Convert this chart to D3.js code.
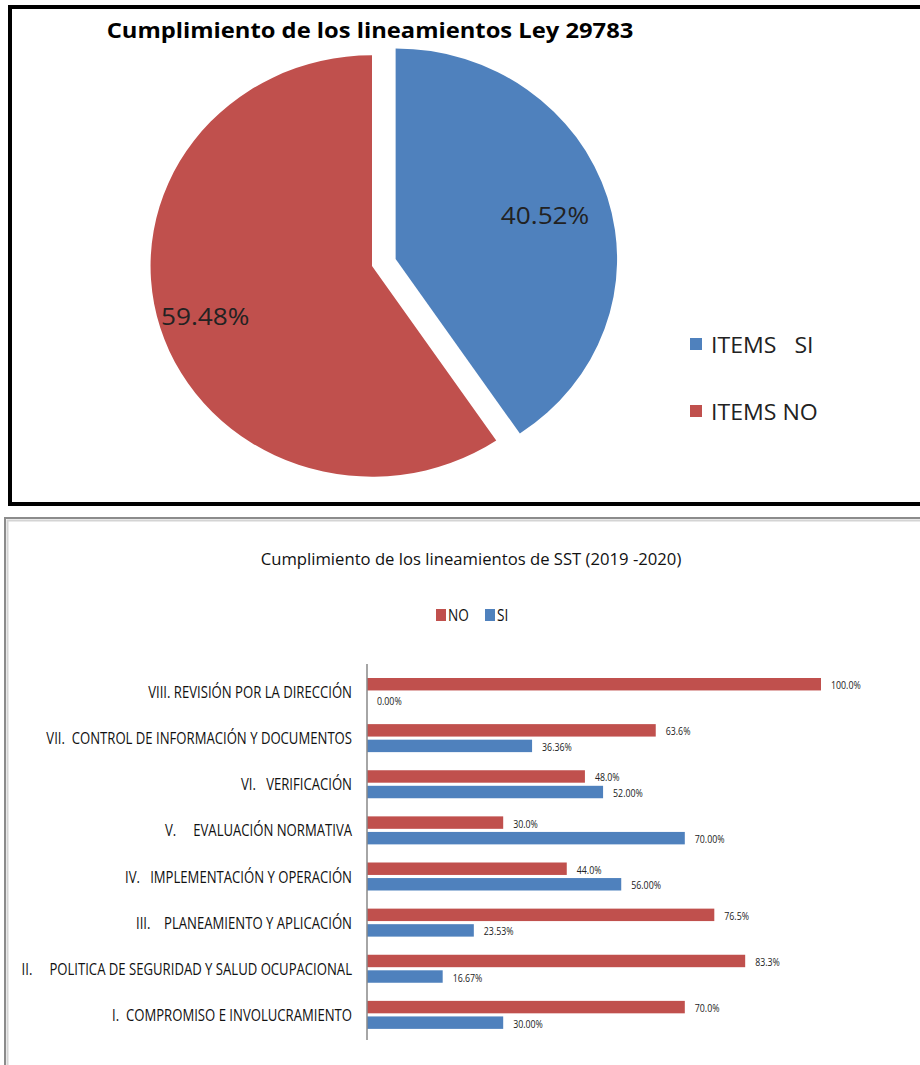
<!DOCTYPE html>
<html>
<head>
<meta charset="utf-8">
<script src="https://cdn.jsdelivr.net/npm/d3@7"></script>
<style>
  body { margin: 0; background: #fff; }
  svg text { font-family: "Open Sans", "Liberation Sans", sans-serif; }
</style>
</head>
<body>
<svg width="920" height="1065"></svg>
<script>
// pie data
var pieLabels = ["ITEMS   SI", "ITEMS NO"];
var pieValues = [40.52, 59.48];

// bar data
var categories = [
  "VIII. REVISIÓN POR LA DIRECCIÓN",
  "VII.  CONTROL DE INFORMACIÓN Y DOCUMENTOS",
  "VI.   VERIFICACIÓN",
  "V.     EVALUACIÓN NORMATIVA",
  "IV.   IMPLEMENTACIÓN Y OPERACIÓN",
  "III.    PLANEAMIENTO Y APLICACIÓN",
  "II.     POLITICA DE SEGURIDAD Y SALUD OCUPACIONAL",
  "I.  COMPROMISO E INVOLUCRAMIENTO"
];
var noValues = [100.0, 63.6, 48.0, 30.0, 44.0, 76.5, 83.3, 70.0];
var siValues = [0.00, 36.36, 52.00, 70.00, 56.00, 23.53, 16.67, 30.00];
var seriesNames = ["NO", "SI"];

var red = "#C0504D", blue = "#4F81BD";

var svg = d3.select("svg");

// ---------- top panel: pie ----------
svg.append("rect")
    .attr("x", 10).attr("y", 7)
    .attr("width", 930).attr("height", 497)
    .attr("fill", "#fff")
    .attr("stroke", "#000")
    .attr("stroke-width", 4);

svg.append("text")
    .attr("transform", "translate(370,38) scale(1.08,1)")
    .attr("text-anchor", "middle")
    .attr("font-size", 22)
    .attr("font-weight", "bold")
    .text("Cumplimiento de los lineamientos Ley 29783");

var pieColor = d3.scaleOrdinal().domain(pieLabels).range([blue, red]);

var pie = d3.pie().sort(null).value(function(d) { return d; });
var arcs = pie(pieValues);
var r = 215;
var arc = d3.arc().innerRadius(0).outerRadius(r);

var pieG = svg.append("g")
    .attr("transform", "translate(372,266) scale(1.03,0.98)");

pieG.selectAll(".slice")
    .data(arcs)
  .enter().append("path")
    .attr("class", "slice")
    .attr("fill", function(d, i) { return pieColor(pieLabels[i]); })
    .attr("transform", function(d, i) {
      if (i !== 0) return null;
      var a = (d.startAngle + d.endAngle) / 2;
      return "translate(" + (Math.sin(a) * 24) + "," + (-Math.cos(a) * 24) + ")";
    })
    .attr("d", arc);

var labelArc = d3.arc().innerRadius(r * 0.72).outerRadius(r * 0.72);
pieG.selectAll(".pie-label")
    .data(arcs)
  .enter().append("text")
    .attr("class", "pie-label")
    .attr("text-anchor", "middle")
    .attr("font-size", 24)
    .attr("fill", "#222")
    .attr("transform", function(d, i) {
      var c = labelArc.centroid(d);
      if (i === 0) { c[0] += 20; c[1] -= 6; } else { c[0] -= 14; c[1] += 6; }
      return "translate(" + c[0] + "," + (c[1] + 9) + ") scale(1.06,1)";
    })
    .text(function(d) { return d.data.toFixed(2) + "%"; });

var pieLegend = svg.selectAll(".pie-legend")
    .data(pieLabels)
  .enter().append("g")
    .attr("class", "pie-legend")
    .attr("transform", function(d, i) { return "translate(690," + (338 + i * 67) + ")"; });

pieLegend.append("rect")
    .attr("width", 12).attr("height", 12)
    .attr("fill", function(d) { return pieColor(d); });

pieLegend.append("text")
    .attr("transform", "translate(21,15) scale(1.05,1)")
    .attr("font-size", 22)
    .attr("fill", "#222")
    .style("white-space", "pre")
    .text(function(d) { return d; });

// ---------- bottom panel: bars ----------
svg.append("rect")
    .attr("x", 5).attr("y", 518)
    .attr("width", 930).attr("height", 560)
    .attr("fill", "#fff")
    .attr("stroke", "#8c8c8c")
    .attr("stroke-width", 2);
svg.append("rect")
    .attr("x", 7.5).attr("y", 520.5)
    .attr("width", 930).attr("height", 560)
    .attr("fill", "none")
    .attr("stroke", "#d4d4d4")
    .attr("stroke-width", 2);

svg.append("text")
    .attr("transform", "translate(471,565) scale(0.98,1)")
    .attr("text-anchor", "middle")
    .attr("font-size", 17)
    .attr("fill", "#111")
    .text("Cumplimiento de los lineamientos de SST (2019 -2020)");

var color = d3.scaleOrdinal().domain(seriesNames).range([red, blue]);

var barLegend = svg.selectAll(".bar-legend")
    .data(seriesNames)
  .enter().append("g")
    .attr("class", "bar-legend")
    .attr("transform", function(d, i) { return "translate(436," + 609 + ") translate(" + (i * 49) + ",0)"; });

barLegend.append("rect")
    .attr("width", 10).attr("height", 12)
    .attr("fill", function(d) { return color(d); });

barLegend.append("text")
    .attr("transform", "translate(12,12) scale(0.85,1)")
    .attr("font-size", 16)
    .attr("fill", "#111")
    .text(function(d) { return d; });

var x = d3.scaleLinear().domain([0, 100]).range([367, 821]);
var y = d3.scaleBand().domain(categories).range([664, 1033]);
var ySub = d3.scaleBand().domain(seriesNames).range([14, 42]).paddingInner(0.2);

var rows = categories.map(function(c, i) {
  return { cat: c, values: [
    { key: "NO", value: noValues[i] },
    { key: "SI", value: siValues[i] }
  ] };
});

var groups = svg.selectAll(".group")
    .data(rows)
  .enter().append("g")
    .attr("class", "group")
    .attr("transform", function(d) { return "translate(0," + y(d.cat) + ")"; });

groups.selectAll("rect")
    .data(function(d) { return d.values; })
  .enter().append("rect")
    .attr("x", x(0))
    .attr("y", function(d) { return ySub(d.key); })
    .attr("width", function(d) { return x(d.value) - x(0); })
    .attr("height", ySub.bandwidth())
    .attr("fill", function(d) { return color(d.key); });

groups.selectAll(".val")
    .data(function(d) { return d.values; })
  .enter().append("text")
    .attr("class", "val")
    .attr("transform", function(d) {
      return "translate(" + (x(d.value) + 10) + "," + (ySub(d.key) + ySub.bandwidth() / 2 + 5) + ") scale(0.8,1)";
    })
    .attr("font-size", 11)
    .attr("fill", "#222")
    .text(function(d) { return d.value.toFixed(d.key === "NO" ? 1 : 2) + "%"; });

groups.append("text")
    .attr("transform", function() { return "translate(352," + (ySub.range()[0] + 14 + 6) + ") scale(0.82,1)"; })
    .attr("text-anchor", "end")
    .attr("font-size", 16)
    .attr("fill", "#111")
    .style("white-space", "pre")
    .text(function(d) { return d.cat; });

svg.append("line")
    .attr("x1", x(0)).attr("x2", x(0))
    .attr("y1", y.range()[0]).attr("y2", y.range()[1] + 7)
    .attr("stroke", "#888")
    .attr("stroke-width", 1.5);
</script>
</body>
</html>
